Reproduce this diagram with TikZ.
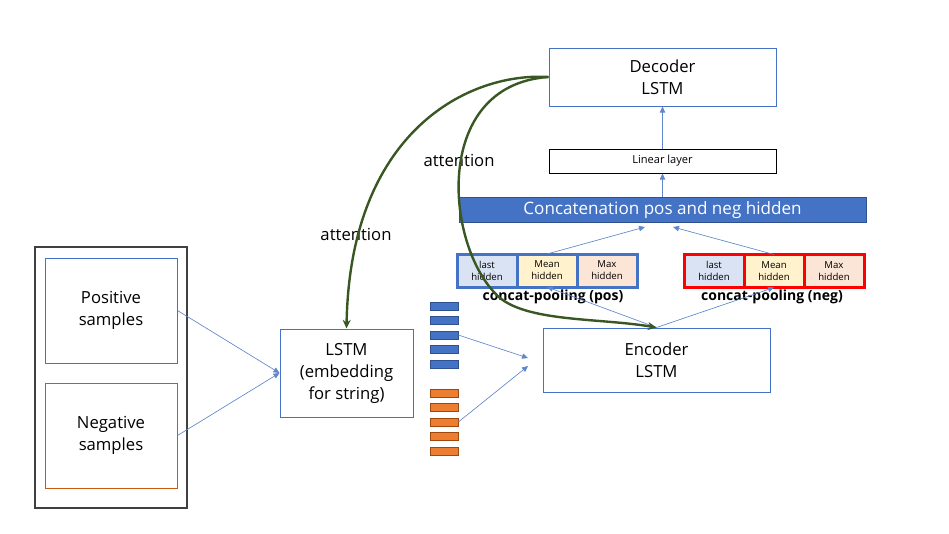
\documentclass[tikz,border=0pt]{standalone}
\usepackage{fontspec}
\setmainfont{Open Sans}
\usetikzlibrary{arrows.meta, positioning, calc}
\definecolor{boxblue}{HTML}{4472C4}
\definecolor{darkblue}{HTML}{2F528F}
\definecolor{attgreen}{HTML}{385723}
\definecolor{lastfill}{HTML}{DAE3F3}
\definecolor{meanfill}{HTML}{FFF2CC}
\definecolor{maxfill}{HTML}{FBE5D6}
\definecolor{orangebar}{HTML}{ED7D31}
\definecolor{orangeline}{HTML}{C55A11}
\definecolor{poolred}{HTML}{FF0000}
\tikzset{
    block/.style={rectangle, draw=boxblue, line width=0.75pt, minimum width=170.25pt, minimum height=48pt, text centered, align=center, inner sep=0pt, font=\fontsize{12.5}{16.5}\selectfont},
    frame/.style={rectangle, draw=black!75, line width=0.9pt, minimum width=114pt, minimum height=195.75pt},
    sample/.style={rectangle, line width=0.75pt, minimum width=99pt, minimum height=78.75pt, align=center, inner sep=0pt, font=\fontsize{12.5}{16}\selectfont},
    bar/.style={rectangle, minimum width=21pt, minimum height=6pt, inner sep=0pt, line width=0.5pt},
    poolcell/.style={rectangle, minimum width=45pt, minimum height=24.75pt, inner sep=0pt, outer sep=0pt, line width=2.25pt, align=center, font=\fontsize{7.2}{9}\selectfont},
    poollabel/.style={inner sep=1pt, font=\fontsize{10.5}{13}\selectfont\bfseries},
    concatbar/.style={rectangle, fill=boxblue, draw=darkblue, line width=0.5pt, text=white, minimum width=305.25pt, minimum height=18.75pt, inner sep=0pt, font=\fontsize{12.8}{15}\selectfont},
    attlabel/.style={inner sep=1pt, font=\fontsize{12.5}{15}\selectfont},
    arrow/.style={draw=boxblue!85, line width=0.5pt, -{Triangle[length=4.5pt,width=4pt]}},
    attn/.style={draw=attgreen, line width=1.8pt, -{Stealth[length=6.5pt,width=6pt]}}
}
\begin{document}
\begin{tikzpicture}[x=0.75pt, y=-0.75pt]
    \useasboundingbox (0,0) rectangle (949,533);

    % input samples
    \node (samples) [frame] at (111,377.5) {};
    \node (pos) [sample, draw=boxblue] at (111,310.5) {Positive\\samples};
    \node (neg) [sample, draw=orangeline] at (111,435.5) {Negative\\samples};

    \node (lstm) [block, minimum width=99.75pt, minimum height=66pt] at (346.5,373) {LSTM\\(embedding\\for string)};

    % embedding vectors
    \foreach \i in {0,...,4} {
        \node (bpos\i) [bar, fill=boxblue, draw=darkblue] at (444,306+14.5*\i) {};
        \node (bneg\i) [bar, fill=orangebar, draw=orangeline!80!black] at (444,393+14.5*\i) {};
    }

    \node (enc) [block] at (656.5,360) {Encoder\\LSTM};
    \coordinate (encin1) at (528,358);
    \coordinate (encin2) at (528,366);

    % concat-pooling
    \node (poslast) [poolcell, draw=boxblue, fill=lastfill] at (487,270.5) {last\\hidden};
    \node (posmean) [poolcell, draw=boxblue, fill=meanfill, right=0pt of poslast] {Mean\\hidden};
    \node (posmax) [poolcell, draw=boxblue, fill=maxfill, right=0pt of posmean] {Max\\hidden};
    \node (poslabel) [poollabel] at (553,297) {concat-pooling (pos)};

    \node (neglast) [poolcell, draw=poolred, fill=lastfill] at (714,271) {last\\hidden};
    \node (negmean) [poolcell, draw=poolred, fill=meanfill, right=0pt of neglast] {Mean\\hidden};
    \node (negmax) [poolcell, draw=poolred, fill=maxfill, right=0pt of negmean] {Max\\hidden};
    \node (neglabel) [poollabel] at (772,297) {concat-pooling (neg)};

    \node (concat) [concatbar] at (662.5,210) {Concatenation pos and neg hidden};
    \coordinate (catin1) at (645,227);
    \coordinate (catin2) at (673,227);

    \node (linear) [block, draw=black, minimum height=18pt, font=\fontsize{8.3}{10}\selectfont] at (662.5,161) {Linear layer};
    \node (dec) [block, minimum height=43.5pt] at (662.5,77) {Decoder\\LSTM};

    \draw [arrow] (pos.east) -- (lstm.west);
    \draw [arrow] (neg.east) -- (lstm.west);
    \draw [arrow] (bpos2.east) -- (encin1);
    \draw [arrow] (bneg2.east) -- (encin2);
    \draw [arrow] (enc.north) -- (posmean.south);
    \draw [arrow] (enc.north) -- (negmean.south);
    \draw [arrow] (posmean.north) -- (catin1);
    \draw [arrow] (negmean.north) -- (catin2);
    \draw [arrow] (concat.north) -- (linear.south);
    \draw [arrow] (linear.north) -- (dec.south);

    % attention
    \node (att1) [attlabel] at (356,234) {attention};
    \node (att2) [attlabel] at (459,160) {attention};
    \draw [attn] (dec.west) .. controls (470,72) and (350,130) .. (lstm.north);
    \draw [attn] (dec.west) .. controls (430,85) and (445,250) .. (500,298) .. controls (530,322) and (600,318) .. (enc.north);
\end{tikzpicture}
\end{document}
